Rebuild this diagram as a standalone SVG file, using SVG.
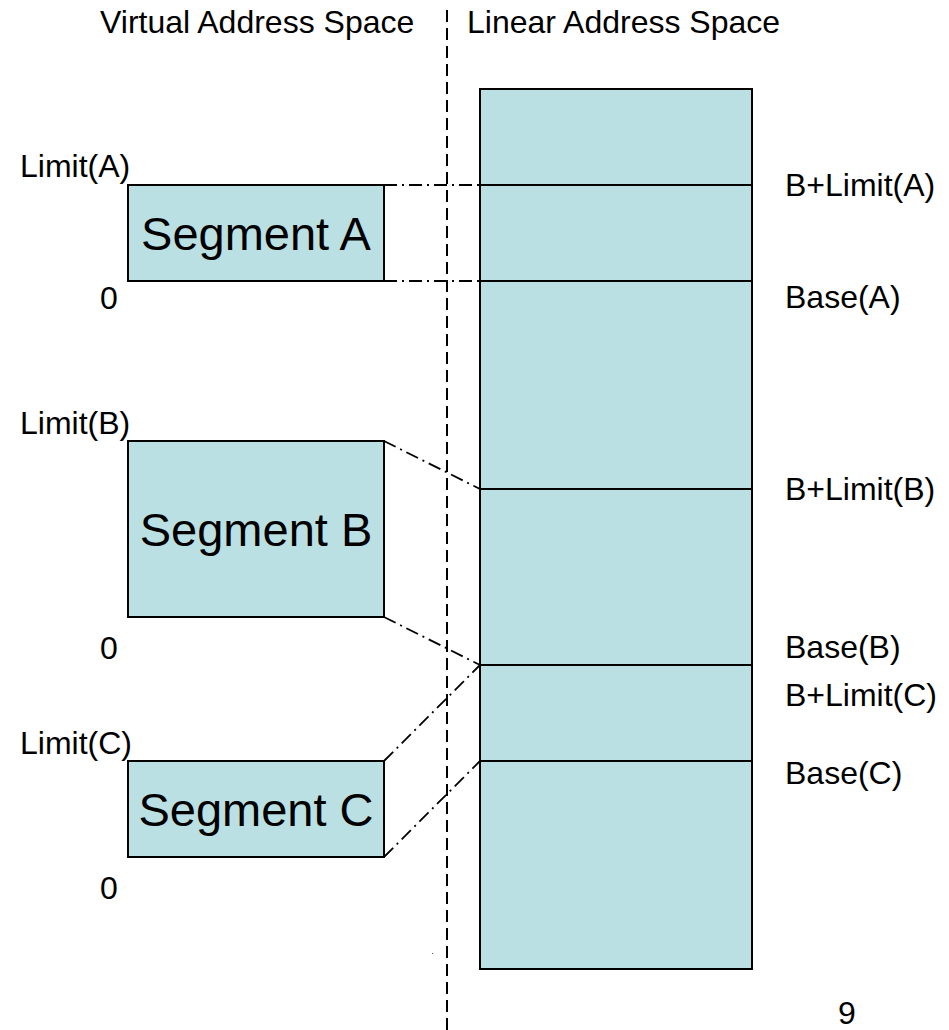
<svg xmlns="http://www.w3.org/2000/svg" width="949" height="1030" viewBox="0 0 949 1030">
<style>
text{font-family:"Liberation Sans",Arial,sans-serif;fill:#000}
.lbl{font-size:32px}
.seg{font-size:47px;text-anchor:middle}
.box{fill:#BBE0E3;stroke:#000;stroke-width:2}
.div{stroke:#000;stroke-width:2}
.dd{stroke:#000;stroke-width:1.8;fill:none;stroke-dasharray:13 5 2 5}
.vd{stroke:#000;stroke-width:2;stroke-dasharray:12 6}
</style>
<rect width="949" height="1030" fill="#fff"/>
<g id="titles">
<text class="lbl" x="100" y="33">Virtual Address Space</text>
<text class="lbl" x="467" y="33">Linear Address Space</text>
</g>
<g id="separator">
<line class="vd" x1="447" y1="10" x2="447" y2="1030"/>
</g>
<g id="linear-space">
<rect class="box" x="480" y="89" width="272" height="880"/>
<line class="div" x1="480" y1="185" x2="752" y2="185"/>
<line class="div" x1="480" y1="281" x2="752" y2="281"/>
<line class="div" x1="480" y1="489" x2="752" y2="489"/>
<line class="div" x1="480" y1="665" x2="752" y2="665"/>
<line class="div" x1="480" y1="761" x2="752" y2="761"/>
<text class="lbl" x="785" y="196">B+Limit(A)</text>
<text class="lbl" x="785" y="308">Base(A)</text>
<text class="lbl" x="785" y="500">B+Limit(B)</text>
<text class="lbl" x="785" y="658">Base(B)</text>
<text class="lbl" x="785" y="706">B+Limit(C)</text>
<text class="lbl" x="785" y="784">Base(C)</text>
</g>
<g id="segment-a">
<rect class="box" x="128" y="185" width="256" height="96"/>
<text class="seg" x="256" y="250">Segment A</text>
<text class="lbl" x="20" y="177">Limit(A)</text>
<text class="lbl" x="100" y="309">0</text>
</g>
<g id="segment-b">
<rect class="box" x="128" y="441" width="256" height="176"/>
<text class="seg" x="256" y="546">Segment B</text>
<text class="lbl" x="20" y="434">Limit(B)</text>
<text class="lbl" x="100" y="659">0</text>
</g>
<g id="segment-c">
<rect class="box" x="128" y="761" width="256" height="96"/>
<text class="seg" x="256" y="826">Segment C</text>
<text class="lbl" x="20" y="754">Limit(C)</text>
<text class="lbl" x="100" y="899">0</text>
</g>
<g id="connectors">
<line class="dd" x1="384" y1="185" x2="480" y2="185"/>
<line class="dd" x1="384" y1="281" x2="480" y2="281"/>
<line class="dd" x1="384" y1="441" x2="480" y2="489"/>
<line class="dd" x1="384" y1="617" x2="480" y2="665"/>
<line class="dd" x1="384" y1="761" x2="480" y2="665"/>
<line class="dd" x1="384" y1="857" x2="480" y2="761"/>
</g>
<rect x="432" y="953" width="1" height="1" fill="#555"/>
<text class="lbl" x="838" y="1024">9</text>
</svg>
